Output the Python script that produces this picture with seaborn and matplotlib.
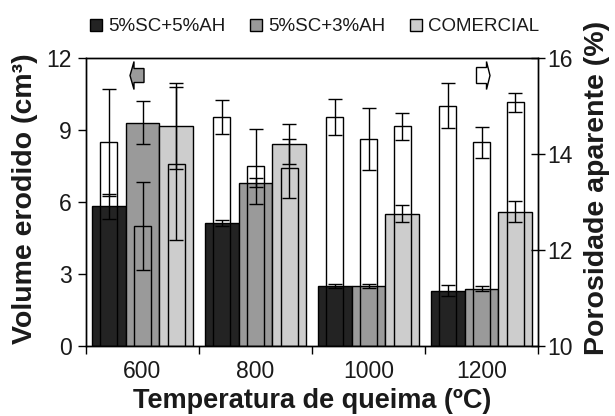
import numpy as np
import pandas as pd
import matplotlib
matplotlib.use("Agg")
import matplotlib.pyplot as plt
import matplotlib.transforms as mtransforms
from matplotlib.patches import Polygon
from matplotlib.lines import Line2D
from matplotlib.ticker import FixedLocator
import seaborn as sns

# ---------------- data ----------------
temps = ['600', '800', '1000', '1200']
series = ['5%SC+5%AH', '5%SC+3%AH', 'COMERCIAL']
colors = ['#232323', '#9a9a9a', '#cdcdcd']

vol_sc5ah5 = [5.82, 5.12, 2.50, 2.31]
vol_sc5ah3 = [9.31, 6.81, 2.50, 2.38]
vol_com = [9.16, 8.42, 5.52, 5.60]
vol_err_sc5ah5 = [0.52, 0.12, 0.10, 0.22]
vol_err_sc5ah3 = [0.91, 0.17, 0.10, 0.10]
vol_err_com = [1.78, 0.82, 0.36, 0.45]

por_sc5ah5 = [14.24, 14.77, 14.77, 15.01]
por_sc5ah3 = [12.50, 13.74, 14.31, 14.24]
por_com = [13.80, 13.70, 14.58, 15.08]
por_err_sc5ah5 = [1.12, 0.36, 0.38, 0.47]
por_err_sc5ah3 = [0.92, 0.78, 0.65, 0.32]
por_err_com = [1.60, 0.61, 0.28, 0.20]

vol_ticks = [0, 3, 6, 9, 12]
por_ticks = [10, 12, 14, 16]

xlabel = 'Temperatura de queima (ºC)'
ylabel_left = 'Volume erodido (cm³)'
ylabel_right = 'Porosidade aparente (%)'

vols = [vol_sc5ah5, vol_sc5ah3, vol_com]
vol_errs = [vol_err_sc5ah5, vol_err_sc5ah3, vol_err_com]
pors = [por_sc5ah5, por_sc5ah3, por_com]
por_errs = [por_err_sc5ah5, por_err_sc5ah3, por_err_com]

rows = []
for s, v, ve, p, pe in zip(series, vols, vol_errs, pors, por_errs):
    for t, a, b, c, d in zip(temps, v, ve, p, pe):
        rows.append(dict(temp=t, serie=s, vol=a, vol_err=b, por=c, por_err=d))
df = pd.DataFrame(rows)

# ---------------- style ----------------
sns.set_theme(style='ticks')
plt.rcParams['font.family'] = ['Liberation Sans', 'DejaVu Sans']
plt.rcParams['axes.edgecolor'] = 'black'
plt.rcParams['axes.linewidth'] = 1.0
plt.rcParams['text.color'] = '#1a1a1a'
plt.rcParams['axes.labelcolor'] = '#1a1a1a'
plt.rcParams['xtick.color'] = 'black'
plt.rcParams['ytick.color'] = 'black'
plt.rcParams['xtick.labelcolor'] = '#1a1a1a'
plt.rcParams['ytick.labelcolor'] = '#1a1a1a'

fig = plt.figure(figsize=(6.15, 4.16), dpi=100)
ax = fig.add_axes([86 / 615, 1 - 346 / 416, (538 - 86) / 615, (346 - 58) / 416])

sns.barplot(data=df, x='temp', y='vol', hue='serie', order=temps,
            hue_order=series, palette=colors, width=0.9, errorbar=None,
            edgecolor='black', linewidth=1.0, saturation=1, legend=False,
            ax=ax)

ax2 = ax.twinx()
sns.barplot(data=df, x='temp', y='por', hue='serie', order=temps,
            hue_order=series, palette=['white'] * 3, width=0.9, errorbar=None,
            edgecolor='black', linewidth=1.0, saturation=1, legend=False,
            ax=ax2)

vol_conts = list(ax.containers)
por_conts = list(ax2.containers)

# narrow open porosity bars, centred on the volume bars
for cont in por_conts:
    for p in cont:
        w = p.get_width()
        cx = p.get_x() + w / 2
        p.set_width(w / 2)
        p.set_x(cx - w / 4)
        p.set_facecolor('none')

# error bars (all drawn on top)
for i, cont in enumerate(vol_conts):
    xs = [p.get_x() + p.get_width() / 2 for p in cont]
    ax2.errorbar(xs, vols[i], yerr=vol_errs[i], fmt='none', ecolor='black',
                 elinewidth=1.0, capsize=5, capthick=1.0,
                 transform=ax.transData, zorder=5, clip_on=False)
for i, cont in enumerate(por_conts):
    xs = [p.get_x() + p.get_width() / 2 for p in cont]
    ax2.errorbar(xs, pors[i], yerr=por_errs[i], fmt='none', ecolor='black',
                 elinewidth=1.0, capsize=5, capthick=1.0, zorder=5,
                 clip_on=False)

# axes limits and ticks
ax.set_xlim(-0.5, len(temps) - 0.5)
ax.set_ylim(0, 12)
ax2.set_ylim(10, 16)
ax.set_yticks(vol_ticks)
ax2.set_yticks(por_ticks)
ax.set_xticks(range(len(temps)))
ax.set_xticklabels(temps)
ax.xaxis.set_minor_locator(FixedLocator(np.arange(-0.5, len(temps), 1.0)))
ax.tick_params(axis='x', which='major', length=0, labelsize=16.5, pad=10)
ax.tick_params(axis='x', which='minor', length=6, width=1, direction='out')
ax.tick_params(axis='y', length=6, width=1, direction='out', labelsize=16.5,
               pad=4)
ax2.tick_params(axis='y', length=10, width=1, direction='inout',
                labelsize=16.5, pad=2)

for a in (ax, ax2):
    for sp in a.spines.values():
        sp.set_visible(True)
        sp.set_color('black')
        sp.set_linewidth(1.0)

ax.set_xlabel(xlabel, fontsize=19.5, fontweight='bold', labelpad=4)
ax.set_ylabel(ylabel_left, fontsize=20.5, fontweight='bold', labelpad=6)
ax2.set_ylabel(ylabel_right, fontsize=20.5, fontweight='bold', labelpad=8)
ax.yaxis.label.set_y(0.51)
ax2.yaxis.label.set_y(0.55)

# direction arrows
def arrow(xc, yc, verts, face):
    tr = (mtransforms.Affine2D().scale(1 / 100.0) + fig.dpi_scale_trans +
          mtransforms.ScaledTranslation(xc, yc, ax.transData))
    poly = Polygon(verts, closed=True, facecolor=face, edgecolor='black',
                   linewidth=1.0, transform=tr, clip_on=False, zorder=6)
    ax2.add_patch(poly)

left_arrow = [(1.5, 7), (-8.5, 7), (-8.5, 14), (-12.5, 0), (-8.5, -14),
              (-8.5, -7), (1.5, -7)]
right_arrow = [(-5, 8), (5, 8), (5, 14), (8.5, 0), (5, -14), (5, -8), (-5, -8)]
arrow(0, 11.27, left_arrow, colors[1])
arrow(3, 11.27, right_arrow, 'white')

# legend
handles = [Line2D([], [], linestyle='none', marker='s', markersize=9,
                  markerfacecolor=c, markeredgecolor='black',
                  markeredgewidth=1.0) for c in colors]
fig.legend(handles, series, loc='center', bbox_to_anchor=(0.511, 0.936),
           ncol=3, frameon=False, fontsize=13.5, handletextpad=0.3,
           columnspacing=1.3, handlelength=0.7)

fig.savefig('out.png', dpi=100)
